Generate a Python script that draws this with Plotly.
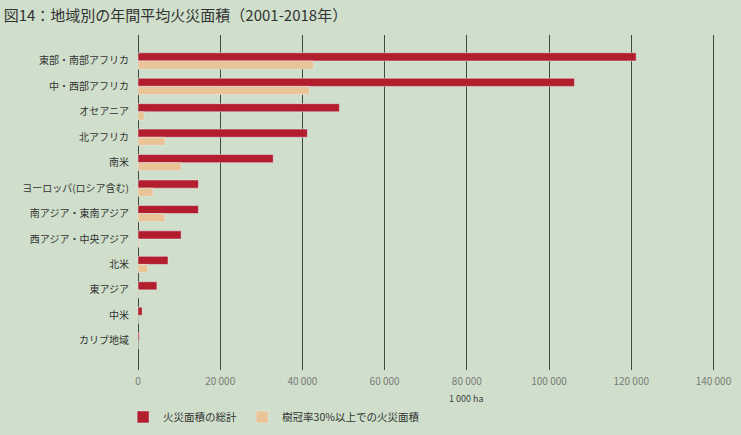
import plotly.graph_objects as go

regions = [
    "東部・南部アフリカ", "中・西部アフリカ", "オセアニア", "北アフリカ", "南米",
    "ヨーロッパ(ロシア含む)", "南アジア・東南アジア", "西アジア・中央アジア",
    "北米", "東アジア", "中米", "カリブ地域",
]
total_burned = [121200, 106200, 49000, 41200, 32900, 14700, 14700, 10500, 7300, 4600, 1000, 300]
burned_tree_cover = [42700, 41700, 1500, 6600, 10500, 3700, 6600, 300, 2400, 200, 100, 50]
x_ticks = [0, 20000, 40000, 60000, 80000, 100000, 120000, 140000]
x_tick_labels = ["0", "20 000", "40 000", "60 000", "80 000", "100 000", "120 000", "140 000"]

BG = "#cfdfcb"
FONT = "Noto Sans CJK JP"

fig = go.Figure()
fig.add_trace(go.Bar(
    y=regions, x=total_burned, orientation="h",
    name="火災面積の総計", marker_color="#b21e2d",
))
fig.add_trace(go.Bar(
    y=regions, x=burned_tree_cover, orientation="h",
    name="樹冠率30%以上での火災面積", marker_color="#e8c497",
))

fig.update_layout(
    width=741, height=435,
    paper_bgcolor=BG, plot_bgcolor=BG,
    font=dict(family=FONT, size=11, color="#333333"),
    barmode="group", bargap=0.36, bargroupgap=0,
    margin=dict(l=138, r=7, t=35, b=65, autoexpand=False),
    title=dict(
        text="図14：地域別の年間平均火災面積（2001-2018年）",
        x=0.005, xanchor="left", y=0.975, yanchor="top",
        font=dict(family=FONT, size=15, color="#333333"),
    ),
    legend=dict(
        orientation="h", x=-0.025, xanchor="left", y=-0.097, yanchor="top",
        font=dict(size=10.5, color="#333333"), itemwidth=30,
        bgcolor="rgba(0,0,0,0)",
    ),
    xaxis=dict(
        range=[0, 145000], tickvals=x_ticks, ticktext=x_tick_labels,
        showgrid=True, gridcolor="#3f4a40", gridwidth=1.3,
        zeroline=True, zerolinecolor="#3f4a40", zerolinewidth=1.3,
        tickfont=dict(size=10, color="#7a7a7a"), ticks="",
        ticklabelstandoff=4, automargin=False,
    ),
    yaxis=dict(
        categoryorder="array", categoryarray=regions,
        range=[12.15, -1.02], showgrid=False, zeroline=False,
        ticks="", ticklabelstandoff=8, automargin=False,
        tickfont=dict(size=10, color="#333333"),
    ),
    annotations=[dict(
        text="1 000 ha", xref="x", x=80000, yref="paper", y=-0.06,
        xanchor="center", yanchor="top", showarrow=False,
        font=dict(size=9, color="#444444"),
    )],
)

fig.write_html(
    "out.html",
    config={"displayModeBar": False},
    post_script="document.body.style.margin='0px';",
)
